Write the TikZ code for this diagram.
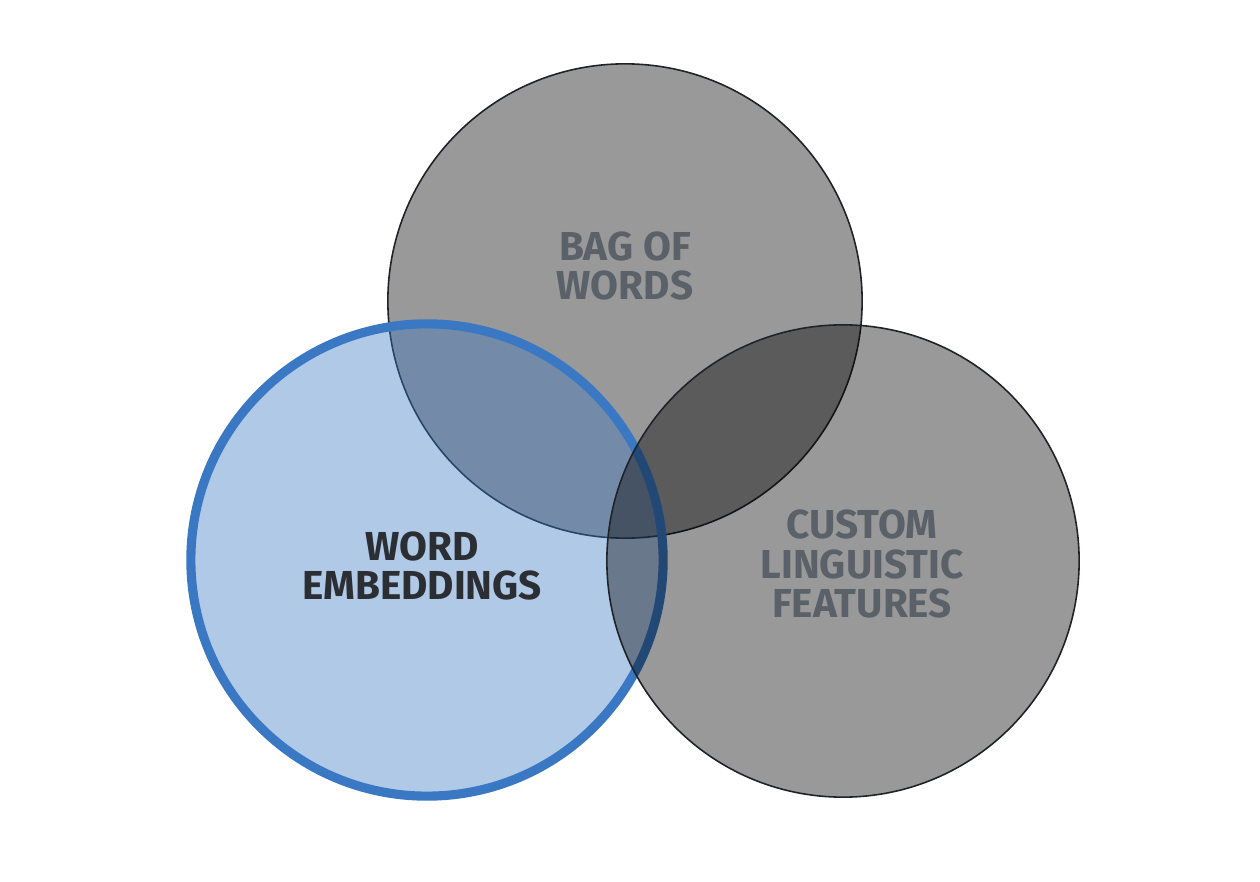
\documentclass[tikz,border=0pt]{standalone}
\usepackage{fontspec}
\setmainfont{Fira Sans}
\definecolor{embline}{HTML}{3A78C3}
\definecolor{ringline}{HTML}{1F2328}
\definecolor{softtext}{HTML}{5B6169}
\definecolor{darktext}{HTML}{2B2E33}
\tikzset{
  ring/.style={draw=ringline, line width=0.45pt, fill=black, fill opacity=0.4},
  blob/.style={draw=embline, line width=2.6pt, fill=embline, fill opacity=0.4},
  tag/.style={font=\bfseries\fontsize{11.5}{11.3}\selectfont, align=center, text=softtext}
}
\begin{document}
\begin{tikzpicture}[x=0.01cm, y=-0.01cm]
  \useasboundingbox (0,0) rectangle (1260,882);
  \fill[white] (0,0) rectangle (1260,882);

  % Bag of words
  \draw[ring] (625,301) circle (2.37cm);

  % Word embeddings, over the top circle
  \draw[blob] (427,560) circle (2.36cm);

  % Custom features, over both
  \draw[ring] (843,561) circle (2.36cm);

  % Labels
  \node[tag] (bow) at (625,266) {BAG OF\\WORDS};
  \node[tag, text=darktext] (emb) at (422,566) {WORD\\EMBEDDINGS};
  \node[tag] (cust) at (862,564) {CUSTOM\\LINGUISTIC\\FEATURES};
\end{tikzpicture}
\end{document}
